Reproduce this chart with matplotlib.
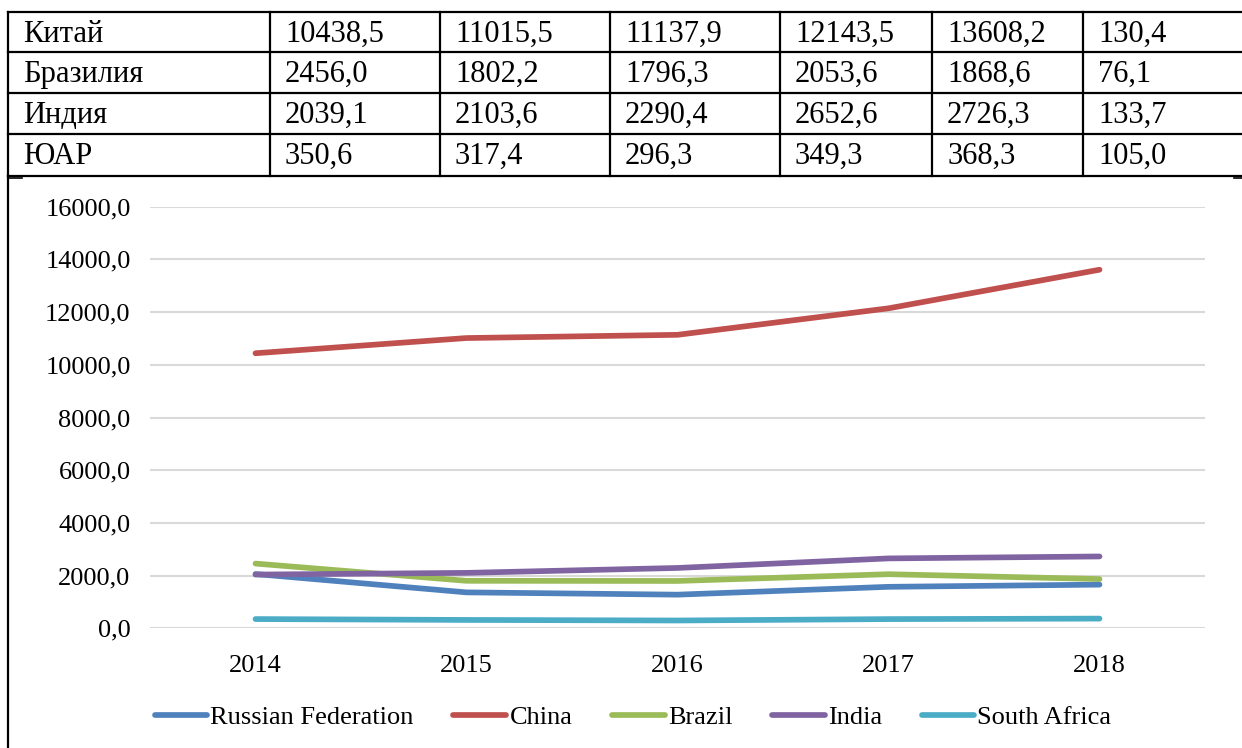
import matplotlib
matplotlib.use("Agg")
import matplotlib.pyplot as plt
from matplotlib.lines import Line2D
from matplotlib.ticker import FuncFormatter, FixedLocator

# ---------------- data ----------------
years = [2014, 2015, 2016, 2017, 2018]
series_names = ["Russian Federation", "China", "Brazil", "India", "South Africa"]
russia = [2059.2, 1363.5, 1276.8, 1574.2, 1657.5]
china = [10438.5, 11015.5, 11137.9, 12143.5, 13608.2]
brazil = [2456.0, 1802.2, 1796.3, 2053.6, 1868.6]
india = [2039.1, 2103.6, 2290.4, 2652.6, 2726.3]
south_africa = [350.6, 317.4, 296.3, 349.3, 368.3]

table_names = ["Китай", "Бразилия", "Индия", "ЮАР"]
table_index = [130.4, 76.1, 133.7, 105.0]
y_ticks = [0, 2000, 4000, 6000, 8000, 10000, 12000, 14000, 16000]

colors = ["#4F81BD", "#C0504D", "#9BBB59", "#8064A2", "#4BACC6"]

# ---------------- figure ----------------
W, H = 1242, 748
DPI = 100
plt.rcParams["font.family"] = ["Liberation Serif", "DejaVu Serif"]
fig = plt.figure(figsize=(W / DPI, H / DPI), dpi=DPI)
fig.patch.set_facecolor("white")


def fx(px):
    return px / W


def fy(py):
    return 1 - py / H


def fmt(v):
    return f"{v:.1f}".replace(".", ",")


# ---------------- table ----------------
row_lines = [12, 52, 93, 134, 176]
col_lines = [8, 270, 440, 610, 780, 932, 1083]
lw_tab = 1.6
for yy in row_lines:
    fig.add_artist(Line2D([fx(8), fx(1242)], [fy(yy), fy(yy)], color="black",
                          lw=lw_tab, transform=fig.transFigure))
for xx in col_lines:
    fig.add_artist(Line2D([fx(xx), fx(xx)], [fy(12), fy(176)], color="black",
                          lw=lw_tab, transform=fig.transFigure))

table_series = [china, brazil, india, south_africa]
for r, (name, vals, idx) in enumerate(zip(table_names, table_series, table_index)):
    base = row_lines[r] + 30
    cells = [name] + [fmt(v) for v in vals] + [fmt(idx)]
    for c, txt in enumerate(cells):
        fig.text(fx(col_lines[c] + 15), fy(base), txt, fontsize=22,
                 ha="left", va="baseline", color="black")

# chart frame remnants
fig.add_artist(Line2D([fx(8), fx(8)], [fy(176), fy(748)], color="black",
                      lw=lw_tab, transform=fig.transFigure))
fig.add_artist(Line2D([fx(8), fx(22)], [fy(178), fy(178)], color="black",
                      lw=1.2, transform=fig.transFigure))
fig.add_artist(Line2D([fx(1234), fx(1242)], [fy(178), fy(178)], color="black",
                      lw=1.2, transform=fig.transFigure))

# ---------------- chart ----------------
ax_left, ax_right = 150, 1205
ax_top, ax_bottom = 206.7, 628.3
ax = fig.add_axes([fx(ax_left), fy(ax_bottom), (ax_right - ax_left) / W,
                   (ax_bottom - ax_top) / H])
ax.set_facecolor("none")

x = list(range(len(years)))
all_series = [russia, china, brazil, india, south_africa]
for name, vals, col in zip(series_names, all_series, colors):
    ax.plot(x, vals, color=col, lw=4.1, solid_capstyle="round",
            solid_joinstyle="round", label=name, zorder=3)

ax.set_xlim(-0.5, len(years) - 0.5)
ax.set_ylim(0, 16000)
ax.yaxis.set_major_locator(FixedLocator(y_ticks))
ax.yaxis.set_major_formatter(FuncFormatter(lambda v, p: fmt(v)))
ax.set_xticks(x)
ax.set_xticklabels([str(y) for y in years])
ax.grid(axis="y", color="#D9D9D9", lw=1.5, zorder=1)
ax.set_axisbelow(True)
for s in ax.spines.values():
    s.set_visible(False)
ax.tick_params(axis="both", length=0, labelsize=19, colors="black")
ax.tick_params(axis="y", pad=14)
ax.tick_params(axis="x", pad=19)

leg = fig.legend(loc="center", bbox_to_anchor=(fx(633), fy(717)), ncol=5,
                 frameon=False, fontsize=19, handlelength=2.0,
                 handletextpad=0.12, columnspacing=1.5, borderaxespad=0)
for h in leg.get_lines():
    h.set_linewidth(4.1)
    h.set_solid_capstyle("round")

fig.savefig("out.png", dpi=DPI, facecolor="white")
